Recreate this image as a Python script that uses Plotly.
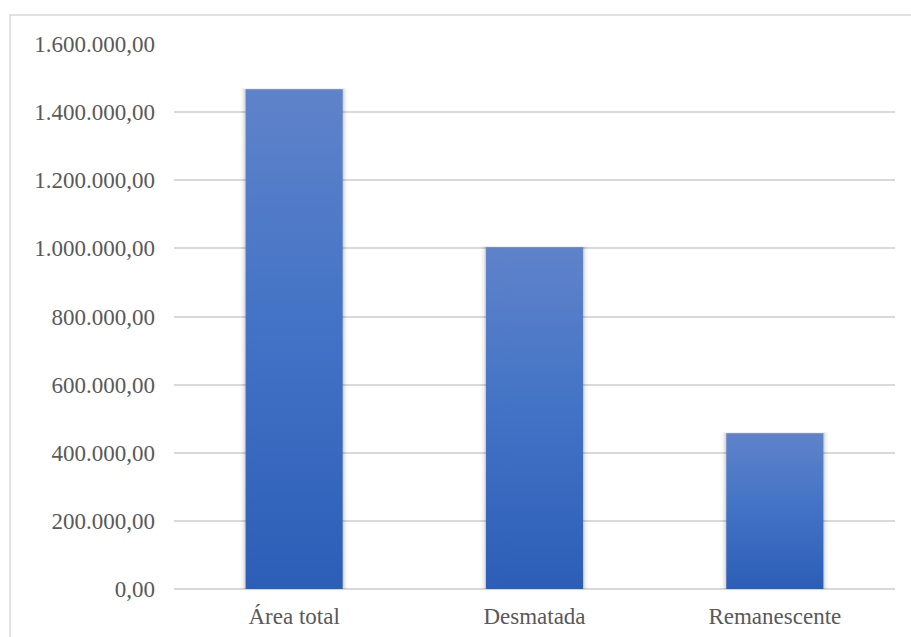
import plotly.graph_objects as go

# Área (ha) por situação da cobertura
categorias = ["Área total", "Desmatada", "Remanescente"]
valores = [1467000, 1003000, 457000]
tick_vals = [0, 200000, 400000, 600000, 800000, 1000000, 1200000, 1400000, 1600000]
tick_text = ["0,00", "200.000,00", "400.000,00", "600.000,00", "800.000,00",
             "1.000.000,00", "1.200.000,00", "1.400.000,00", "1.600.000,00"]

W, H = 911, 637
M_L, M_R, M_T, M_B = 174, 16, 44, 48
plot_w = W - M_L - M_R
plot_h = H - M_T - M_B
y_max = 1600000
half = 0.202                      # half bar width in category units
px_x = plot_w / len(categorias)   # pixels per category unit
px_y = plot_h / y_max             # pixels per value unit

font_family = "Liberation Serif"
txt_color = "#595959"
grid_color = "#d9d9d9"

fig = go.Figure()

# soft drop shadow behind each bar
for i, v in enumerate(valores):
    for k, a in [(5, 0.025), (3.5, 0.035), (2, 0.05), (1, 0.07)]:
        dx = k / px_x
        dy = k / px_y
        x0, x1 = i - half - dx, i + half + dx
        y0, y1 = -dy * 0.6, v + dy * 0.3
        fig.add_trace(go.Scatter(
            x=[x0, x1, x1, x0, x0], y=[y0, y0, y1, y1, y0],
            mode="lines", line=dict(width=0), fill="toself",
            fillcolor=f"rgba(0,0,0,{a})", hoverinfo="skip", showlegend=False,
        ))

# bars with a vertical gradient fill
for i, (c, v) in enumerate(zip(categorias, valores)):
    x0, x1 = i - half, i + half
    fig.add_trace(go.Scatter(
        x=[x0, x1, x1, x0, x0], y=[0, 0, v, v, 0],
        mode="lines", line=dict(width=0), fill="toself",
        fillgradient=dict(type="vertical",
                          colorscale=[[0, "#2d5eb7"], [0.5, "#4172c6"], [1, "#5f83ca"]]),
        name=c, hovertemplate=f"{c}: %{{y:,.2f}}<extra></extra>", showlegend=False,
    ))

# chart frame
def px_to_paper_x(p):
    return (p - M_L) / plot_w

def px_to_paper_y(p):
    return (H - M_B - p) / plot_h

fig.add_shape(type="rect", xref="paper", yref="paper",
              x0=px_to_paper_x(10), x1=px_to_paper_x(930),
              y0=px_to_paper_y(660), y1=px_to_paper_y(15),
              line=dict(color=grid_color, width=1.5), fillcolor="rgba(0,0,0,0)",
              layer="below")

fig.update_layout(
    width=W, height=H,
    margin=dict(l=M_L, r=M_R, t=M_T, b=M_B),
    paper_bgcolor="white", plot_bgcolor="white",
    font=dict(family=font_family, size=23, color=txt_color),
    xaxis=dict(range=[-0.5, len(categorias) - 0.5], tickvals=list(range(len(categorias))),
               ticktext=categorias, showgrid=False, zeroline=False, showline=False,
               ticks="", ticklabelstandoff=11, fixedrange=True, automargin=False),
    yaxis=dict(range=[0, y_max], tickvals=tick_vals, ticktext=tick_text,
               showgrid=True, gridcolor=grid_color, gridwidth=1.5,
               zeroline=True, zerolinecolor=grid_color, zerolinewidth=1.5,
               showline=False, ticks="", ticklabelstandoff=18, fixedrange=True,
               automargin=False),
    showlegend=False,
)

fig.write_html("out.html")
